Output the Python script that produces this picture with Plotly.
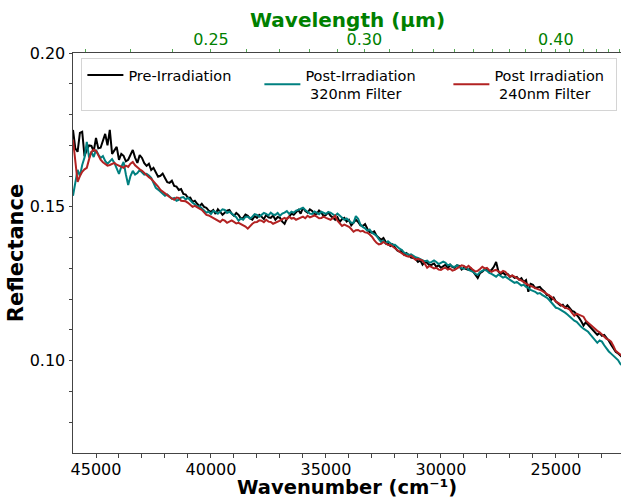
import plotly.graph_objects as go

# ---------------- data ----------------
wavenumber = [
    46000, 45900, 45800, 45700, 45600, 45500, 45400, 45300, 45200, 45100,
    45000, 44900, 44800, 44700, 44600, 44500, 44400, 44300, 44200, 44100,
    44000, 43900, 43800, 43700, 43600, 43500, 43400, 43300, 43200, 43100,
    43000, 42900, 42800, 42700, 42600, 42500, 42400, 42300, 42200, 42100,
    42000, 41900, 41800, 41700, 41600, 41500, 41400, 41300, 41200, 41100,
    41000, 40900, 40800, 40700, 40600, 40500, 40400, 40300, 40200, 40100,
    40000, 39900, 39800, 39700, 39600, 39500, 39400, 39300, 39200, 39100,
    39000, 38900, 38800, 38700, 38600, 38500, 38400, 38300, 38200, 38100,
    38000, 37900, 37800, 37700, 37600, 37500, 37400, 37300, 37200, 37100,
    37000, 36900, 36800, 36700, 36600, 36500, 36400, 36300, 36200, 36100,
    36000, 35900, 35800, 35700, 35600, 35500, 35400, 35300, 35200, 35100,
    35000, 34900, 34800, 34700, 34600, 34500, 34400, 34300, 34200, 34100,
    34000, 33900, 33800, 33700, 33600, 33500, 33400, 33300, 33200, 33100,
    33000, 32900, 32800, 32700, 32600, 32500, 32400, 32300, 32200, 32100,
    32000, 31900, 31800, 31700, 31600, 31500, 31400, 31300, 31200, 31100,
    31000, 30900, 30800, 30700, 30600, 30500, 30400, 30300, 30200, 30100,
    30000, 29900, 29800, 29700, 29600, 29500, 29400, 29300, 29200, 29100,
    29000, 28900, 28800, 28700, 28600, 28500, 28400, 28300, 28200, 28100,
    28000, 27900, 27800, 27700, 27600, 27500, 27400, 27300, 27200, 27100,
    27000, 26900, 26800, 26700, 26600, 26500, 26400, 26300, 26200, 26100,
    26000, 25900, 25800, 25700, 25600, 25500, 25400, 25300, 25200, 25100,
    25000, 24900, 24800, 24700, 24600, 24500, 24400, 24300, 24200, 24100,
    24000, 23900, 23800, 23700, 23600, 23500, 23400, 23300, 23200, 23100,
    23000, 22900, 22800, 22700, 22600, 22500, 22400, 22300, 22200, 22100,
    22000,
]

pre_irradiation = [
    0.1750, 0.1690, 0.1679, 0.1740, 0.1744, 0.1665, 0.1685, 0.1700, 0.1698, 0.1680,
    0.1724, 0.1690, 0.1692, 0.1712, 0.1737, 0.1700, 0.1750, 0.1672, 0.1685, 0.1695,
    0.1653, 0.1672, 0.1666, 0.1648, 0.1653, 0.1670, 0.1685, 0.1660, 0.1643, 0.1668,
    0.1659, 0.1642, 0.1633, 0.1640, 0.1620, 0.1627, 0.1614, 0.1598, 0.1601, 0.1608,
    0.1594, 0.1580, 0.1578, 0.1585, 0.1568, 0.1566, 0.1555, 0.1558, 0.1542, 0.1540,
    0.1529, 0.1530, 0.1516, 0.1520, 0.1510, 0.1502, 0.1510, 0.1500, 0.1497, 0.1488,
    0.1484, 0.1490, 0.1477, 0.1492, 0.1484, 0.1474, 0.1481, 0.1488, 0.1490, 0.1478,
    0.1471, 0.1480, 0.1474, 0.1462, 0.1464, 0.1475, 0.1471, 0.1462, 0.1458, 0.1470,
    0.1464, 0.1474, 0.1468, 0.1460, 0.1474, 0.1466, 0.1464, 0.1472, 0.1458, 0.1467,
    0.1464, 0.1452, 0.1445, 0.1462, 0.1468, 0.1478, 0.1474, 0.1482, 0.1490, 0.1478,
    0.1497, 0.1486, 0.1481, 0.1492, 0.1487, 0.1476, 0.1477, 0.1488, 0.1481, 0.1470,
    0.1474, 0.1482, 0.1471, 0.1465, 0.1458, 0.1466, 0.1451, 0.1460, 0.1464, 0.1452,
    0.1458, 0.1440, 0.1448, 0.1458, 0.1451, 0.1440, 0.1438, 0.1444, 0.1429, 0.1418,
    0.1416, 0.1420, 0.1406, 0.1398, 0.1393, 0.1399, 0.1386, 0.1380, 0.1373, 0.1378,
    0.1367, 0.1358, 0.1354, 0.1357, 0.1344, 0.1350, 0.1344, 0.1335, 0.1334, 0.1330,
    0.1321, 0.1326, 0.1312, 0.1322, 0.1318, 0.1310, 0.1312, 0.1316, 0.1305, 0.1310,
    0.1302, 0.1308, 0.1312, 0.1300, 0.1312, 0.1304, 0.1302, 0.1310, 0.1308, 0.1296,
    0.1302, 0.1298, 0.1295, 0.1300, 0.1289, 0.1280, 0.1269, 0.1285, 0.1289, 0.1296,
    0.1295, 0.1290, 0.1295, 0.1305, 0.1321, 0.1290, 0.1282, 0.1286, 0.1279, 0.1282,
    0.1273, 0.1276, 0.1269, 0.1272, 0.1263, 0.1268, 0.1256, 0.1262, 0.1224, 0.1250,
    0.1247, 0.1236, 0.1237, 0.1240, 0.1231, 0.1225, 0.1214, 0.1212, 0.1198, 0.1205,
    0.1192, 0.1186, 0.1179, 0.1182, 0.1172, 0.1180, 0.1172, 0.1162, 0.1159, 0.1150,
    0.1140, 0.1128, 0.1114, 0.1125, 0.1117, 0.1106, 0.1101, 0.1092, 0.1084, 0.1090,
    0.1081, 0.1084, 0.1075, 0.1065, 0.1052, 0.1040, 0.1029, 0.1024, 0.1016, 0.1010,
    0.1003,
]

post_320nm_filter = [
    0.1536, 0.1580, 0.1620, 0.1600, 0.1636, 0.1660, 0.1711, 0.1660, 0.1679, 0.1662,
    0.1685, 0.1670, 0.1659, 0.1665, 0.1649, 0.1640, 0.1646, 0.1655, 0.1643, 0.1625,
    0.1607, 0.1630, 0.1646, 0.1605, 0.1571, 0.1600, 0.1617, 0.1605, 0.1610, 0.1620,
    0.1614, 0.1605, 0.1607, 0.1602, 0.1594, 0.1580, 0.1562, 0.1556, 0.1549, 0.1545,
    0.1536, 0.1540, 0.1532, 0.1526, 0.1529, 0.1520, 0.1523, 0.1530, 0.1532, 0.1524,
    0.1529, 0.1520, 0.1513, 0.1508, 0.1500, 0.1502, 0.1494, 0.1486, 0.1481, 0.1484,
    0.1477, 0.1487, 0.1484, 0.1478, 0.1484, 0.1492, 0.1490, 0.1480, 0.1484, 0.1478,
    0.1474, 0.1466, 0.1455, 0.1462, 0.1458, 0.1468, 0.1468, 0.1462, 0.1468, 0.1476,
    0.1474, 0.1468, 0.1474, 0.1480, 0.1477, 0.1472, 0.1481, 0.1475, 0.1474, 0.1480,
    0.1471, 0.1478, 0.1481, 0.1486, 0.1477, 0.1484, 0.1481, 0.1488, 0.1490, 0.1494,
    0.1497, 0.1490, 0.1484, 0.1478, 0.1477, 0.1485, 0.1481, 0.1476, 0.1484, 0.1480,
    0.1477, 0.1483, 0.1481, 0.1476, 0.1471, 0.1478, 0.1471, 0.1464, 0.1458, 0.1462,
    0.1455, 0.1448, 0.1448, 0.1470, 0.1461, 0.1442, 0.1435, 0.1430, 0.1422, 0.1426,
    0.1416, 0.1410, 0.1406, 0.1395, 0.1386, 0.1390, 0.1380, 0.1388, 0.1383, 0.1376,
    0.1377, 0.1370, 0.1364, 0.1360, 0.1351, 0.1348, 0.1344, 0.1346, 0.1341, 0.1336,
    0.1334, 0.1330, 0.1328, 0.1323, 0.1325, 0.1318, 0.1321, 0.1326, 0.1321, 0.1314,
    0.1318, 0.1322, 0.1318, 0.1310, 0.1312, 0.1306, 0.1305, 0.1310, 0.1305, 0.1300,
    0.1299, 0.1303, 0.1295, 0.1292, 0.1289, 0.1282, 0.1279, 0.1288, 0.1292, 0.1296,
    0.1292, 0.1285, 0.1282, 0.1278, 0.1273, 0.1280, 0.1276, 0.1270, 0.1273, 0.1268,
    0.1263, 0.1258, 0.1253, 0.1256, 0.1250, 0.1244, 0.1247, 0.1240, 0.1237, 0.1230,
    0.1227, 0.1224, 0.1218, 0.1220, 0.1214, 0.1210, 0.1205, 0.1198, 0.1188, 0.1180,
    0.1172, 0.1170, 0.1166, 0.1160, 0.1156, 0.1150, 0.1143, 0.1136, 0.1130, 0.1126,
    0.1117, 0.1110, 0.1104, 0.1100, 0.1094, 0.1085, 0.1075, 0.1068, 0.1058, 0.1066,
    0.1062, 0.1050, 0.1039, 0.1030, 0.1023, 0.1016, 0.1010, 0.1002, 0.0990, 0.0984,
    0.0977,
]

post_240nm_filter = [
    0.1718, 0.1650, 0.1581, 0.1600, 0.1614, 0.1622, 0.1627, 0.1655, 0.1679, 0.1686,
    0.1682, 0.1668, 0.1653, 0.1645, 0.1640, 0.1634, 0.1636, 0.1640, 0.1643, 0.1637,
    0.1633, 0.1630, 0.1627, 0.1634, 0.1630, 0.1640, 0.1646, 0.1635, 0.1627, 0.1622,
    0.1617, 0.1610, 0.1601, 0.1596, 0.1591, 0.1583, 0.1575, 0.1566, 0.1555, 0.1550,
    0.1545, 0.1538, 0.1532, 0.1526, 0.1523, 0.1530, 0.1529, 0.1520, 0.1519, 0.1518,
    0.1513, 0.1505, 0.1500, 0.1503, 0.1497, 0.1494, 0.1490, 0.1480, 0.1474, 0.1472,
    0.1468, 0.1462, 0.1458, 0.1454, 0.1451, 0.1458, 0.1455, 0.1448, 0.1451, 0.1456,
    0.1451, 0.1446, 0.1448, 0.1444, 0.1442, 0.1436, 0.1429, 0.1438, 0.1445, 0.1450,
    0.1451, 0.1456, 0.1455, 0.1450, 0.1458, 0.1452, 0.1451, 0.1445, 0.1448, 0.1452,
    0.1455, 0.1460, 0.1464, 0.1460, 0.1468, 0.1462, 0.1464, 0.1458, 0.1461, 0.1466,
    0.1468, 0.1463, 0.1471, 0.1466, 0.1468, 0.1472, 0.1468, 0.1463, 0.1464, 0.1468,
    0.1464, 0.1460, 0.1458, 0.1464, 0.1471, 0.1455, 0.1445, 0.1438, 0.1442, 0.1438,
    0.1435, 0.1428, 0.1419, 0.1424, 0.1425, 0.1420, 0.1422, 0.1417, 0.1416, 0.1410,
    0.1403, 0.1392, 0.1383, 0.1378, 0.1380, 0.1386, 0.1380, 0.1376, 0.1377, 0.1372,
    0.1367, 0.1360, 0.1354, 0.1348, 0.1344, 0.1340, 0.1338, 0.1341, 0.1334, 0.1328,
    0.1331, 0.1327, 0.1325, 0.1315, 0.1302, 0.1308, 0.1305, 0.1300, 0.1302, 0.1296,
    0.1295, 0.1300, 0.1302, 0.1296, 0.1299, 0.1293, 0.1295, 0.1301, 0.1305, 0.1310,
    0.1308, 0.1302, 0.1308, 0.1300, 0.1295, 0.1290, 0.1292, 0.1298, 0.1305, 0.1300,
    0.1302, 0.1294, 0.1289, 0.1293, 0.1295, 0.1290, 0.1286, 0.1292, 0.1289, 0.1280,
    0.1273, 0.1277, 0.1273, 0.1268, 0.1266, 0.1262, 0.1256, 0.1250, 0.1247, 0.1245,
    0.1240, 0.1236, 0.1234, 0.1230, 0.1227, 0.1222, 0.1218, 0.1212, 0.1208, 0.1200,
    0.1192, 0.1188, 0.1182, 0.1178, 0.1172, 0.1170, 0.1166, 0.1155, 0.1146, 0.1153,
    0.1149, 0.1145, 0.1143, 0.1130, 0.1123, 0.1116, 0.1110, 0.1104, 0.1097, 0.1092,
    0.1084, 0.1077, 0.1071, 0.1068, 0.1062, 0.1048, 0.1032, 0.1026, 0.1019, 0.1014,
    0.1010,
]

series_names = [
    "Pre-Irradiation",
    "Post-Irradiation<br> 320nm Filter",
    "Post Irradiation<br> 240nm Filter",
]
series_colors = ["black", "#008080", "#b22222"]

x_range = [46000, 22170]
y_range = [0.07, 0.20]
x_major_ticks = [45000, 40000, 35000, 30000, 25000]
x_minor_ticks = [44000, 43000, 42000, 41000, 39000, 38000, 37000, 36000,
                 34000, 33000, 32000, 31000, 29000, 28000, 27000, 26000,
                 24000, 23000]
y_major_ticks = [0.10, 0.15, 0.20]
y_minor_ticks = [0.08, 0.09, 0.11, 0.12, 0.13, 0.14, 0.16, 0.17, 0.18, 0.19]
wavelength_major = [0.25, 0.30, 0.40]
wavelength_minor = [0.22, 0.23, 0.24, 0.26, 0.27, 0.28, 0.29, 0.31, 0.32,
                    0.33, 0.34, 0.35, 0.36, 0.37, 0.38, 0.39, 0.41, 0.42,
                    0.43, 0.44, 0.45]

FONT = "DejaVu Sans"
AXIS_COLOR = "#444444"
GREEN = "#008000"
TOP_TICK = "#55aa55"

fig = go.Figure()
series = [pre_irradiation, post_320nm_filter, post_240nm_filter]
legend_widths = [126, 138, 117]
for vals, name, col, lw in zip(series, series_names, series_colors, legend_widths):
    fig.add_trace(go.Scatter(
        x=wavenumber, y=vals, mode="lines", name=name,
        line=dict(color=col, width=2), legendwidth=lw,
    ))

# helper trace so the secondary (wavelength) axis is drawn
fig.add_trace(go.Scatter(x=[None], y=[None], xaxis="x2", showlegend=False,
                         hoverinfo="skip"))

fig.update_layout(
    width=621, height=498, autosize=False,
    margin=dict(l=73, r=0, t=53, b=45, pad=0),
    paper_bgcolor="white", plot_bgcolor="white",
    font=dict(family=FONT, size=16, color="black"),
    showlegend=True,
    legend=dict(
        orientation="h", x=0.0153, y=0.9875, xanchor="left", yanchor="top",
        bgcolor="rgba(255,255,255,0.85)", bordercolor="#d4d4d4", borderwidth=1,
        font=dict(family=FONT, size=14.5, color="black"),
        valign="middle", traceorder="normal", itemwidth=36,
    ),
    xaxis=dict(
        range=x_range, autorange=False,
        tickmode="array", tickvals=x_major_ticks,
        ticktext=[str(v) for v in x_major_ticks],
        ticks="outside", ticklen=3.5, tickwidth=1, tickcolor=AXIS_COLOR,
        showline=True, linecolor=AXIS_COLOR, linewidth=1,
        showgrid=False, zeroline=False,
        tickfont=dict(size=16, family=FONT, color="black"),
        ticklabelstandoff=-2,
        minor=dict(tickmode="array", tickvals=x_minor_ticks, ticks="outside",
                   ticklen=3.5, tickwidth=1, tickcolor=AXIS_COLOR, showgrid=False),
    ),
    xaxis2=dict(
        overlaying="x", side="top", anchor="y",
        range=x_range, autorange=False,
        tickmode="array", tickvals=[1e4 / w for w in wavelength_major],
        ticktext=["%.2f" % w for w in wavelength_major],
        ticks="outside", ticklen=3.5, tickwidth=1, tickcolor=TOP_TICK,
        showline=True, linecolor=AXIS_COLOR, linewidth=1,
        showgrid=False, zeroline=False,
        tickfont=dict(size=16, family=FONT, color=GREEN),
        ticklabelstandoff=-3,
        minor=dict(tickmode="array", tickvals=[1e4 / w for w in wavelength_minor],
                   ticks="outside", ticklen=3.5, tickwidth=1, tickcolor=TOP_TICK,
                   showgrid=False),
    ),
    yaxis=dict(
        range=y_range, autorange=False,
        tickmode="array", tickvals=y_major_ticks,
        ticktext=["%.2f" % v for v in y_major_ticks],
        ticks="outside", ticklen=3.5, tickwidth=1, tickcolor=AXIS_COLOR,
        showline=True, linecolor=AXIS_COLOR, linewidth=1,
        showgrid=False, zeroline=False,
        tickfont=dict(size=16, family=FONT, color="black"),
        ticklabelstandoff=0,
        minor=dict(tickmode="array", tickvals=y_minor_ticks, ticks="outside",
                   ticklen=3.5, tickwidth=1, tickcolor=AXIS_COLOR, showgrid=False),
        title=dict(text="<b>Reflectance</b>",
                   font=dict(size=21, family=FONT, color="black"), standoff=0),
    ),
    annotations=[
        dict(text="<b>Wavelength (µm)</b>", xref="paper", yref="paper",
             x=0.5, y=1.0825, xanchor="center", yanchor="middle",
             showarrow=False, font=dict(size=20, family=FONT, color=GREEN)),
        dict(text="<b>Wavenumber (cm⁻¹)</b>", xref="paper",
             yref="paper", x=0.5, y=-0.0875, xanchor="center", yanchor="middle",
             showarrow=False, borderpad=0,
             font=dict(size=19.5, family=FONT, color="black")),
    ],
)

fig.write_html("out.html")
